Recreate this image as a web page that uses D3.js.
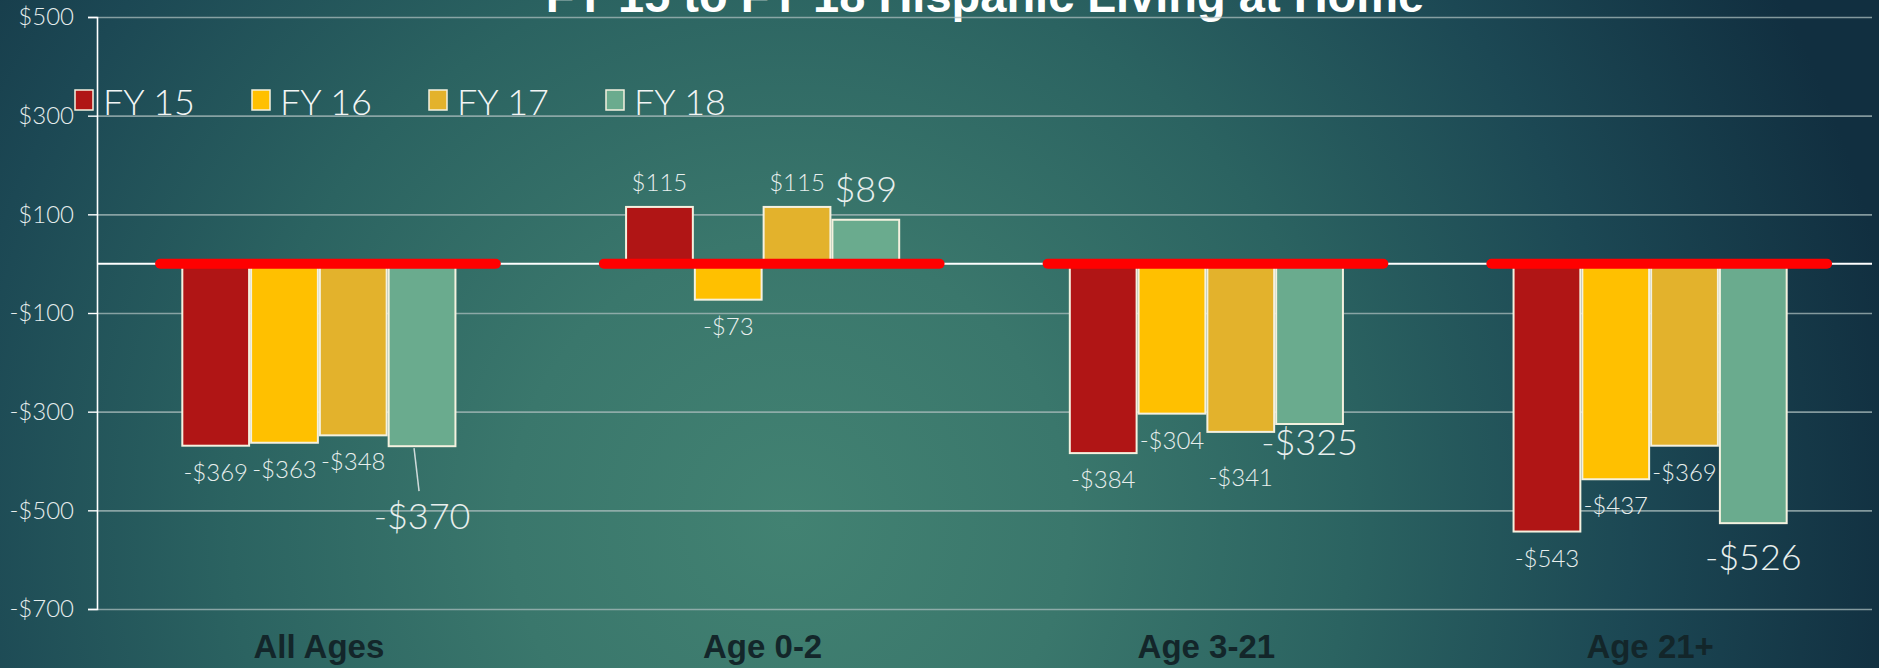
<!DOCTYPE html>
<html><head><meta charset="utf-8">
<script src="https://cdn.jsdelivr.net/npm/d3@7"></script>
<style>html,body{margin:0;padding:0;background:#1d4a55;overflow:hidden}</style>
</head><body><svg id="chart" width="1879" height="668"></svg>
<script>
// ---- data ----
const title = "FY 15 to FY 18 Hispanic Living at Home";
const categories = ["All Ages", "Age 0-2", "Age 3-21", "Age 21+"];
const seriesNames = ["FY 15", "FY 16", "FY 17", "FY 18"];
const fy15 = [-369, 115, -384, -543];
const fy16 = [-363, -73, -304, -437];
const fy17 = [-348, 115, -341, -369];
const fy18 = [-370, 89, -325, -526];
const yTicks = [500, 300, 100, -100, -300, -500, -700];
const seriesValues = [fy15, fy16, fy17, fy18];

// ---- styles ----
const colors = ["#b01515", "#ffc000", "#e3b22c", "#6aab8e"];
const W = 1879, H = 668;
const m = {left: 97, right: 7, top: 17, bottom: 59};
const fontLight = "Lato, 'Liberation Sans', Arial, sans-serif";
const fontBold = "'Liberation Sans', Arial, sans-serif";
// label nudges (layout only)
const nudges = {"All Ages|FY 18": {dy: 48, leader: true}, "Age 3-21|FY 17": {dy: 19}, "Age 3-21|FY 18": {dy: -4}, "Age 21+|FY 18": {dy: 12}};

const svg = d3.select("#chart");
const defs = svg.append("defs");
const grad = defs.append("radialGradient").attr("id", "bg")
  .attr("gradientUnits", "userSpaceOnUse").attr("cx", 790).attr("cy", 520).attr("r", 1120);
[[0, "#428272"], [0.25, "#3a776c"], [0.5, "#2b6361"], [0.75, "#1c4854"], [1, "#112f40"]]
  .forEach(([o, c]) => grad.append("stop").attr("offset", o).attr("stop-color", c));
svg.append("rect").attr("width", W).attr("height", H).attr("fill", "url(#bg)");

const y = d3.scaleLinear().domain([-700, 500]).range([H - m.bottom, m.top]);
const x0 = d3.scaleBand().domain(categories).range([m.left, W - m.right]).padding(0);
const bw = x0.bandwidth();
const x1 = d3.scaleBand().domain(seriesNames).range([bw * 0.19, bw * 0.81]).padding(0);
const fmt = v => (v < 0 ? "-" : "") + "$" + Math.abs(v);

// title (cut off at top)
svg.append("text").attr("x", 985).attr("y", 12).attr("text-anchor", "middle")
  .attr("font-family", fontBold).attr("font-weight", "bold").attr("font-size", 47)
  .attr("fill", "#ffffff").text(title);

// gridlines
const grid = svg.append("g").attr("transform", `translate(${m.left},0)`)
  .call(d3.axisLeft(y).tickValues(yTicks.filter(v => v !== 0)).tickSize(-(W - m.left - m.right)).tickFormat(""));
grid.select(".domain").remove();
grid.selectAll("line").attr("stroke", "#a9bcbc").attr("stroke-opacity", 0.75).attr("stroke-width", 1.6);

// zero line
svg.append("line").attr("x1", m.left).attr("x2", W - m.right).attr("y1", y(0)).attr("y2", y(0))
  .attr("stroke", "#ffffff").attr("stroke-width", 2);

// y axis
const ya = svg.append("g").attr("transform", `translate(${m.left},0)`)
  .call(d3.axisLeft(y).tickValues(yTicks).tickSize(9).tickPadding(14).tickFormat(fmt));
ya.select(".domain").attr("stroke", "#ffffff").attr("stroke-width", 1.6);
ya.selectAll("line").attr("stroke", "#ffffff").attr("stroke-width", 1.4);
ya.selectAll("text").attr("font-family", fontLight).attr("font-weight", 300).attr("font-size", 24)
  .attr("fill", "#e6eded");

// category axis
const xa = svg.append("g").attr("transform", `translate(0,${H - m.bottom})`)
  .call(d3.axisBottom(x0).tickSize(0).tickPadding(49));
xa.select(".domain").remove();
xa.selectAll("text").attr("font-family", fontBold).attr("font-weight", "bold").attr("font-size", 33)
  .attr("fill", "#13262a").attr("dy", 0);

// bars
const groups = svg.append("g").selectAll("g").data(categories).join("g")
  .attr("transform", d => `translate(${x0(d)},0)`);
groups.selectAll("rect")
  .data((c, ci) => seriesNames.map((s, si) => ({c, s, si, v: seriesValues[si][ci]})))
  .join("rect")
  .attr("x", d => x1(d.s) + 1).attr("width", x1.bandwidth() - 2)
  .attr("y", d => y(Math.max(0, d.v))).attr("height", d => Math.abs(y(d.v) - y(0)))
  .attr("fill", d => colors[d.si]).attr("stroke", "#f4f1df").attr("stroke-width", 2);

// red lines
svg.append("g").selectAll("line").data(categories).join("line")
  .attr("x1", d => x0(d) + bw / 2 - bw * 0.369 + 5).attr("x2", d => x0(d) + bw / 2 + bw * 0.41 - 5)
  .attr("y1", y(0)).attr("y2", y(0))
  .attr("stroke", "#ff0000").attr("stroke-width", 10).attr("stroke-linecap", "round");

// data labels
const lab = svg.append("g");
categories.forEach((c, ci) => {
  seriesNames.forEach((s, si) => {
    const v = seriesValues[si][ci];
    const big = si === 3;
    const n = nudges[c + "|" + s] || {};
    const cx = x0(c) + x1(s) + x1.bandwidth() / 2;
    let by = v >= 0 ? y(v) - (big ? 18 : 16) : y(v) + 35;
    by += (n.dy || 0);
    lab.append("text").attr("x", cx + (n.dx || 0)).attr("y", by).attr("text-anchor", "middle")
      .attr("font-family", fontLight).attr("font-weight", 300).attr("font-size", big ? 36 : 24)
      .attr("fill", "#e8efee").text(fmt(v));
    if (n.leader) {
      lab.append("line").attr("x1", cx - 8).attr("y1", y(v) + 2).attr("x2", cx - 3).attr("y2", by - 38)
        .attr("stroke", "#cfdada").attr("stroke-width", 1.5);
    }
  });
});

// legend
const leg = svg.append("g").attr("transform", "translate(75,90)");
const li = leg.selectAll("g").data(seriesNames).join("g").attr("transform", (d, i) => `translate(${i * 177},0)`);
li.append("rect").attr("width", 18).attr("height", 20).attr("fill", (d, i) => colors[i])
  .attr("stroke", "#f4f1df").attr("stroke-width", 1.5);
li.append("text").attr("x", 28).attr("y", 25).attr("font-family", fontLight).attr("font-weight", 300)
  .attr("font-size", 36).attr("fill", "#f2f5f5").text(d => d);
</script></body></html>
